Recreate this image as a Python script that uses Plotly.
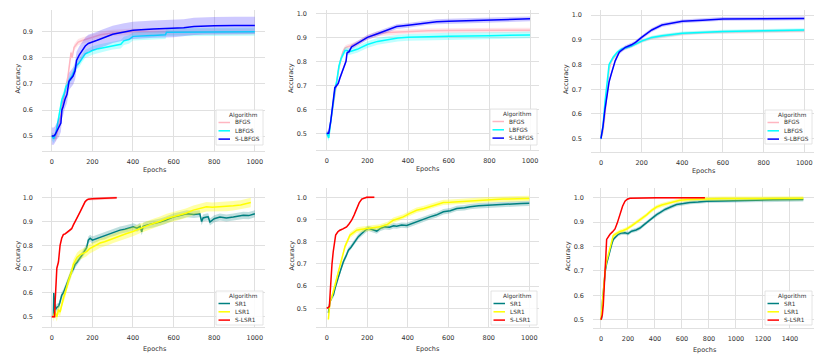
import plotly.graph_objects as go
from plotly.subplots import make_subplots

W, H = 831, 361

# ---------------- top-left ----------------
p1_bfgs_x = [0, 10, 20, 30, 40, 50, 60, 70, 80, 90, 95, 100, 105, 110, 120, 130, 150, 180, 200, 240, 300, 350, 400, 500, 600, 700, 800, 900, 1000]
p1_bfgs_y = [0.5, 0.5, 0.49, 0.52, 0.56, 0.61, 0.65, 0.69, 0.73, 0.79, 0.82, 0.80, 0.83, 0.84, 0.85, 0.86, 0.866, 0.874, 0.878, 0.888, 0.895, 0.898, 0.9, 0.9, 0.9, 0.9, 0.9, 0.9, 0.9]
p1_lbfgs_x = [0, 10, 20, 30, 40, 50, 60, 70, 80, 90, 100, 110, 120, 135, 150, 165, 180, 200, 230, 260, 300, 340, 355, 380, 400, 450, 490, 500, 520, 560, 565, 600, 700, 800, 900, 1000]
p1_lbfgs_y = [0.5, 0.49, 0.51, 0.55, 0.6, 0.64, 0.66, 0.69, 0.70, 0.72, 0.73, 0.75, 0.77, 0.78, 0.80, 0.815, 0.82, 0.828, 0.835, 0.84, 0.848, 0.852, 0.865, 0.87, 0.882, 0.885, 0.885, 0.885, 0.886, 0.888, 0.898, 0.898, 0.899, 0.899, 0.9, 0.9]
p1_slbfgs_x = [0, 10, 16, 25, 35, 45, 50, 55, 65, 75, 85, 95, 105, 115, 122, 135, 150, 165, 180, 200, 220, 240, 270, 300, 350, 400, 500, 600, 650, 700, 750, 800, 900, 1000]
p1_slbfgs_y = [0.5, 0.5, 0.505, 0.52, 0.53, 0.55, 0.6, 0.61, 0.64, 0.66, 0.71, 0.72, 0.73, 0.75, 0.79, 0.81, 0.83, 0.845, 0.855, 0.862, 0.866, 0.872, 0.88, 0.89, 0.898, 0.905, 0.91, 0.912, 0.915, 0.92, 0.922, 0.923, 0.924, 0.924]

# ---------------- top-middle ----------------
p2_bfgs_x = [0, 10, 20, 30, 40, 50, 60, 70, 80, 90, 100, 120, 150, 200, 250, 300, 400, 500, 600, 800, 1000]
p2_bfgs_y = [0.5, 0.49, 0.55, 0.61, 0.67, 0.72, 0.77, 0.81, 0.84, 0.855, 0.86, 0.865, 0.875, 0.9, 0.915, 0.92, 0.925, 0.927, 0.928, 0.93, 0.93]
p2_lbfgs_x = [0, 10, 20, 30, 40, 50, 60, 70, 80, 90, 100, 110, 120, 150, 200, 250, 300, 350, 400, 500, 600, 800, 1000]
p2_lbfgs_y = [0.5, 0.48, 0.55, 0.62, 0.68, 0.72, 0.78, 0.81, 0.83, 0.845, 0.845, 0.84, 0.842, 0.85, 0.87, 0.883, 0.89, 0.897, 0.9, 0.903, 0.905, 0.907, 0.91]
p2_slbfgs_x = [0, 10, 20, 30, 40, 50, 57, 65, 74, 85, 95, 100, 110, 122, 150, 200, 250, 300, 344, 400, 450, 500, 541, 600, 705, 800, 1000]
p2_slbfgs_y = [0.5, 0.5, 0.55, 0.62, 0.69, 0.7, 0.708, 0.73, 0.75, 0.78, 0.8, 0.835, 0.84, 0.86, 0.875, 0.9, 0.915, 0.93, 0.945, 0.95, 0.955, 0.962, 0.965, 0.967, 0.97, 0.973, 0.977]

# ---------------- top-right ----------------
p3_bfgs_x = [0, 10, 20, 30, 40, 50, 60, 80, 100, 150, 200, 250, 300, 400, 500, 600, 800, 1000]
p3_bfgs_y = [0.5, 0.53, 0.6, 0.7, 0.78, 0.81, 0.825, 0.845, 0.86, 0.875, 0.895, 0.908, 0.915, 0.925, 0.93, 0.932, 0.935, 0.937]
p3_lbfgs_x = [0, 10, 20, 30, 40, 50, 60, 80, 100, 150, 200, 250, 300, 400, 500, 600, 800, 1000]
p3_lbfgs_y = [0.5, 0.55, 0.65, 0.74, 0.8, 0.815, 0.83, 0.85, 0.862, 0.875, 0.895, 0.91, 0.917, 0.927, 0.932, 0.934, 0.937, 0.94]
p3_slbfgs_x = [0, 10, 20, 30, 40, 50, 60, 70, 90, 120, 150, 170, 200, 250, 300, 350, 400, 500, 600, 800, 1000]
p3_slbfgs_y = [0.5, 0.55, 0.62, 0.68, 0.73, 0.76, 0.79, 0.815, 0.85, 0.87, 0.88, 0.89, 0.91, 0.94, 0.96, 0.968, 0.975, 0.98, 0.985, 0.986, 0.987]

# ---------------- bottom-left ----------------
p4_sr1_x = [8, 10, 14, 18, 25, 33, 40, 49, 57, 66, 74, 82, 90, 98, 106, 115, 125, 139, 150, 164, 172, 180, 189, 200, 213, 225, 238, 260, 287, 310, 336, 360, 380, 402, 420, 435, 443, 450, 467, 500, 533, 560, 598, 630, 664, 700, 729, 738, 745, 762, 770, 779, 800, 828, 860, 894, 920, 943, 970, 1000]
p4_sr1_y = [0.5, 0.6, 0.56, 0.53, 0.54, 0.543, 0.56, 0.59, 0.6, 0.62, 0.63, 0.65, 0.67, 0.69, 0.7, 0.72, 0.73, 0.745, 0.76, 0.78, 0.79, 0.822, 0.83, 0.822, 0.826, 0.83, 0.836, 0.84, 0.85, 0.855, 0.864, 0.868, 0.872, 0.878, 0.872, 0.88, 0.857, 0.88, 0.885, 0.89, 0.898, 0.905, 0.919, 0.925, 0.933, 0.93, 0.933, 0.9, 0.915, 0.919, 0.92, 0.898, 0.912, 0.919, 0.915, 0.919, 0.922, 0.926, 0.925, 0.933]
p4_lsr1_x = [8, 16, 25, 33, 41, 50, 58, 66, 74, 82, 90, 98, 106, 115, 125, 139, 150, 160, 172, 185, 205, 220, 238, 260, 280, 303, 330, 350, 369, 400, 434, 460, 480, 500, 530, 566, 600, 631, 660, 697, 730, 762, 790, 828, 860, 894, 930, 959, 980]
p4_lsr1_y = [0.5, 0.52, 0.5, 0.53, 0.52, 0.56, 0.58, 0.6, 0.63, 0.65, 0.67, 0.69, 0.72, 0.735, 0.75, 0.76, 0.765, 0.77, 0.774, 0.785, 0.795, 0.8, 0.81, 0.815, 0.822, 0.83, 0.838, 0.843, 0.85, 0.858, 0.871, 0.88, 0.886, 0.892, 0.9, 0.913, 0.92, 0.927, 0.935, 0.948, 0.955, 0.962, 0.96, 0.962, 0.963, 0.966, 0.97, 0.976, 0.98]
p4_slsr1_x = [0, 10, 14, 16, 20, 25, 33, 41, 49, 57, 66, 74, 86, 98, 106, 115, 127, 139, 150, 164, 172, 180, 200, 238, 280, 320]
p4_slsr1_y = [0.5, 0.5, 0.5, 0.55, 0.6, 0.704, 0.73, 0.8, 0.83, 0.845, 0.848, 0.853, 0.86, 0.87, 0.885, 0.898, 0.92, 0.94, 0.96, 0.983, 0.99, 0.994, 0.996, 0.997, 0.999, 1.0]

# ---------------- bottom-middle ----------------
p5_sr1_x = [8, 16, 25, 33, 41, 49, 57, 66, 74, 82, 95, 107, 120, 132, 145, 156, 170, 181, 195, 206, 225, 247, 265, 288, 310, 330, 345, 370, 395, 420, 444, 470, 490, 510, 540, 576, 610, 642, 680, 708, 750, 806, 840, 872, 920, 960, 1000]
p5_sr1_y = [0.48, 0.53, 0.55, 0.56, 0.59, 0.62, 0.64, 0.665, 0.69, 0.71, 0.735, 0.762, 0.775, 0.793, 0.81, 0.823, 0.835, 0.845, 0.855, 0.86, 0.855, 0.848, 0.86, 0.867, 0.865, 0.872, 0.87, 0.875, 0.873, 0.882, 0.89, 0.9, 0.905, 0.912, 0.92, 0.935, 0.94, 0.95, 0.953, 0.958, 0.962, 0.965, 0.966, 0.97, 0.97, 0.972, 0.973]
p5_lsr1_x = [8, 16, 25, 33, 41, 49, 57, 66, 74, 82, 90, 100, 115, 130, 148, 165, 180, 197, 230, 263, 300, 329, 355, 378, 410, 444, 480, 510, 540, 576, 610, 642, 690, 741, 800, 872, 940, 1000]
p5_lsr1_y = [0.45, 0.53, 0.55, 0.58, 0.605, 0.63, 0.665, 0.69, 0.725, 0.75, 0.778, 0.8, 0.83, 0.84, 0.852, 0.855, 0.857, 0.86, 0.863, 0.867, 0.878, 0.897, 0.905, 0.912, 0.928, 0.942, 0.95, 0.958, 0.968, 0.977, 0.978, 0.98, 0.984, 0.987, 0.99, 0.992, 0.994, 0.995]
p5_slsr1_x = [0, 13, 17, 21, 26, 32, 38, 44, 55, 65, 80, 98, 110, 123, 135, 148, 160, 173, 185, 197, 215, 235]
p5_slsr1_y = [0.5, 0.508, 0.57, 0.65, 0.7, 0.755, 0.8, 0.83, 0.845, 0.852, 0.858, 0.867, 0.88, 0.897, 0.92, 0.95, 0.975, 0.992, 0.997, 1.0, 1.0, 1.0]

# ---------------- bottom-right ----------------
p6_sr1_x = [0, 5, 12, 22, 32, 42, 55, 67, 80, 91, 110, 128, 150, 178, 200, 227, 260, 289, 320, 350, 380, 412, 440, 474, 520, 560, 610, 659, 720, 783, 900, 1030, 1150, 1277, 1400, 1499]
p6_sr1_y = [0.5, 0.507, 0.58, 0.66, 0.7, 0.73, 0.76, 0.786, 0.81, 0.829, 0.842, 0.85, 0.855, 0.856, 0.853, 0.863, 0.868, 0.876, 0.89, 0.904, 0.918, 0.931, 0.94, 0.952, 0.963, 0.972, 0.976, 0.981, 0.983, 0.986, 0.987, 0.99, 0.99, 0.992, 0.992, 0.993]
p6_lsr1_x = [0, 12, 22, 32, 42, 55, 67, 80, 91, 110, 141, 165, 190, 227, 264, 300, 338, 375, 412, 450, 486, 530, 585, 650, 720, 783, 900, 1100, 1300, 1499]
p6_lsr1_y = [0.5, 0.58, 0.67, 0.71, 0.74, 0.77, 0.8, 0.825, 0.845, 0.852, 0.862, 0.866, 0.872, 0.885, 0.9, 0.913, 0.93, 0.948, 0.962, 0.97, 0.976, 0.983, 0.99, 0.993, 0.995, 0.996, 0.997, 0.997, 0.998, 0.998]
p6_slsr1_x = [0, 10, 17, 24, 30, 36, 42, 55, 67, 85, 104, 120, 141, 160, 178, 195, 215, 260, 330, 412, 550, 770]
p6_slsr1_y = [0.5, 0.52, 0.56, 0.62, 0.68, 0.76, 0.829, 0.843, 0.85, 0.86, 0.872, 0.895, 0.932, 0.965, 0.986, 0.994, 0.998, 0.999, 1.0, 1.0, 1.0, 1.0]

# half-width of the shaded band per series (per panel)
band_p1 = [0.012, 0.016, 0.033]
band_p2 = [0.01, 0.014, 0.01]
band_p3 = [0.007, 0.007, 0.008]
band_p4 = [0.015, 0.02, 0.005]
band_p5 = [0.012, 0.012, 0.004]
band_p6 = [0.008, 0.008, 0.003]

COLORS = {
    "BFGS": ("#ffb6c1", "rgba(255,182,193,0.35)"),
    "LBFGS": ("#00ffff", "rgba(0,255,255,0.25)"),
    "S-LBFGS": ("#0000ff", "rgba(60,40,255,0.25)"),
    "SR1": ("#008080", "rgba(0,128,128,0.25)"),
    "LSR1": ("#ffff00", "rgba(255,255,0,0.35)"),
    "S-LSR1": ("#ff0000", "rgba(255,0,0,0.2)"),
}

top_names = ["BFGS", "LBFGS", "S-LBFGS"]
bot_names = ["SR1", "LSR1", "S-LSR1"]

panels = [
    dict(names=top_names, band=band_p1, data=[(p1_bfgs_x, p1_bfgs_y), (p1_lbfgs_x, p1_lbfgs_y), (p1_slbfgs_x, p1_slbfgs_y)],
         box=(42, 265, 10, 151), xr=(-48, 1050), yr=(0.443, 0.983), leg=(216, 263, 110, 145)),
    dict(names=top_names, band=band_p2, data=[(p2_bfgs_x, p2_bfgs_y), (p2_lbfgs_x, p2_lbfgs_y), (p2_slbfgs_x, p2_slbfgs_y)],
         box=(316, 539, 10, 150), xr=(-52.6, 1044), yr=(0.430, 1.014), leg=(490, 537, 109, 145)),
    dict(names=top_names, band=band_p3, data=[(p3_bfgs_x, p3_bfgs_y), (p3_lbfgs_x, p3_lbfgs_y), (p3_slbfgs_x, p3_slbfgs_y)],
         box=(591, 814, 10, 152), xr=(-49, 1048), yr=(0.446, 1.021), leg=(765, 812, 110, 144)),
    dict(names=bot_names, band=band_p4, data=[(p4_sr1_x, p4_sr1_y), (p4_lsr1_x, p4_lsr1_y), (p4_slsr1_x, p4_slsr1_y)],
         box=(42, 265, 188, 327), xr=(-48, 1050), yr=(0.457, 1.041), leg=(216, 263, 291, 325)),
    dict(names=bot_names, band=band_p5, data=[(p5_sr1_x, p5_sr1_y), (p5_lsr1_x, p5_lsr1_y), (p5_slsr1_x, p5_slsr1_y)],
         box=(316, 539, 188, 327), xr=(-53, 1048), yr=(0.416, 1.042), leg=(491, 537, 291, 325)),
    dict(names=bot_names, band=band_p6, data=[(p6_sr1_x, p6_sr1_y), (p6_lsr1_x, p6_lsr1_y), (p6_slsr1_x, p6_slsr1_y)],
         box=(593, 814, 188, 328), xr=(-59, 1578), yr=(0.466, 1.04), leg=(765, 812, 291, 325)),
]

FONT = "DejaVu Sans"
GRID = "#e0e0e0"
TXT = "#333333"


def px(x):
    return x / W


def py(y):
    return 1 - y / H


fig = make_subplots(rows=2, cols=3)
shapes, annotations = [], []

for i, p in enumerate(panels):
    row, col = i // 3 + 1, i % 3 + 1
    for name, (xs, ys), sd in zip(p["names"], p["data"], p["band"]):
        line_c, fill_c = COLORS[name]
        upper = [v + sd for v in ys]
        lower = [v - sd for v in ys]
        fig.add_trace(go.Scatter(
            x=list(xs) + list(xs)[::-1], y=upper + lower[::-1],
            fill="toself", fillcolor=fill_c, line=dict(width=0),
            mode="lines", hoverinfo="skip", showlegend=False,
        ), row=row, col=col)
        fig.add_trace(go.Scatter(
            x=xs, y=ys, mode="lines", name=name,
            line=dict(color=line_c, width=1.5), showlegend=False,
        ), row=row, col=col)

    x0, x1, y0, y1 = p["box"]
    sfx = "" if i == 0 else str(i + 1)
    fig.layout["xaxis" + sfx].update(
        domain=[px(x0), px(x1)], range=list(p["xr"]), dtick=200, tick0=0,
        showgrid=True, gridcolor=GRID, gridwidth=1, zeroline=False,
        showline=True, linecolor=GRID, linewidth=1, ticks="",
        tickfont=dict(size=6.5, color=TXT, family=FONT), ticklabelstandoff=4,
    )
    fig.layout["yaxis" + sfx].update(
        domain=[py(y1), py(y0)], range=list(p["yr"]),
        tickvals=[0.5, 0.6, 0.7, 0.8, 0.9, 1.0], tickformat=".1f",
        showgrid=True, gridcolor=GRID, gridwidth=1, zeroline=False,
        showline=False, ticks="",
        tickfont=dict(size=6.5, color=TXT, family=FONT), ticklabelstandoff=8,
    )

    # axis titles
    annotations.append(dict(
        x=px(x0 - 25), y=py((y0 + y1) / 2 - 2), xref="paper", yref="paper",
        xanchor="center", yanchor="middle",
        text="Accuracy", textangle=-90, showarrow=False,
        font=dict(size=6.5, color=TXT, family=FONT),
    ))
    annotations.append(dict(
        x=px((x0 + x1) / 2 + 1), y=py(y1 + 19 if i < 3 else y1 + 22), xref="paper", yref="paper",
        xanchor="center", yanchor="middle",
        text="Epochs", showarrow=False,
        font=dict(size=6.5, color=TXT, family=FONT),
    ))

    # legend box
    lx0, lx1, ly0, ly1 = p["leg"]
    shapes.append(dict(
        type="rect", xref="paper", yref="paper",
        x0=px(lx0), x1=px(lx1), y0=py(ly1), y1=py(ly0),
        fillcolor="rgba(255,255,255,0.85)", line=dict(color="#dddddd", width=0.8),
    ))
    annotations.append(dict(
        x=px(lx1 - 3), y=py(ly0 + 5), xref="paper", yref="paper",
        xanchor="right", yanchor="middle",
        text="Algorithm", showarrow=False, font=dict(size=5.8, color=TXT, family=FONT),
    ))
    for k, name in enumerate(p["names"]):
        yy = ly0 + 12.5 + k * 8.3
        shapes.append(dict(
            type="line", xref="paper", yref="paper",
            x0=px(lx0 + 2.5), x1=px(lx0 + 14), y0=py(yy), y1=py(yy),
            line=dict(color=COLORS[name][0], width=1.5),
        ))
        annotations.append(dict(
            x=px(lx0 + 17), y=py(yy), xref="paper", yref="paper",
            xanchor="left", yanchor="middle",
            text=name, showarrow=False, font=dict(size=5.8, color=TXT, family=FONT),
        ))

fig.update_layout(
    template="none",
    width=W, height=H, margin=dict(l=0, r=0, t=0, b=0, pad=0),
    paper_bgcolor="white", plot_bgcolor="white",
    showlegend=False, shapes=shapes, annotations=annotations,
    font=dict(family=FONT, color=TXT),
)

# the page body has a default 8px margin; drop it so pixels line up
fig.write_html(
    "out.html",
    config={"displayModeBar": False},
    post_script="document.body.style.margin='0';",
)
